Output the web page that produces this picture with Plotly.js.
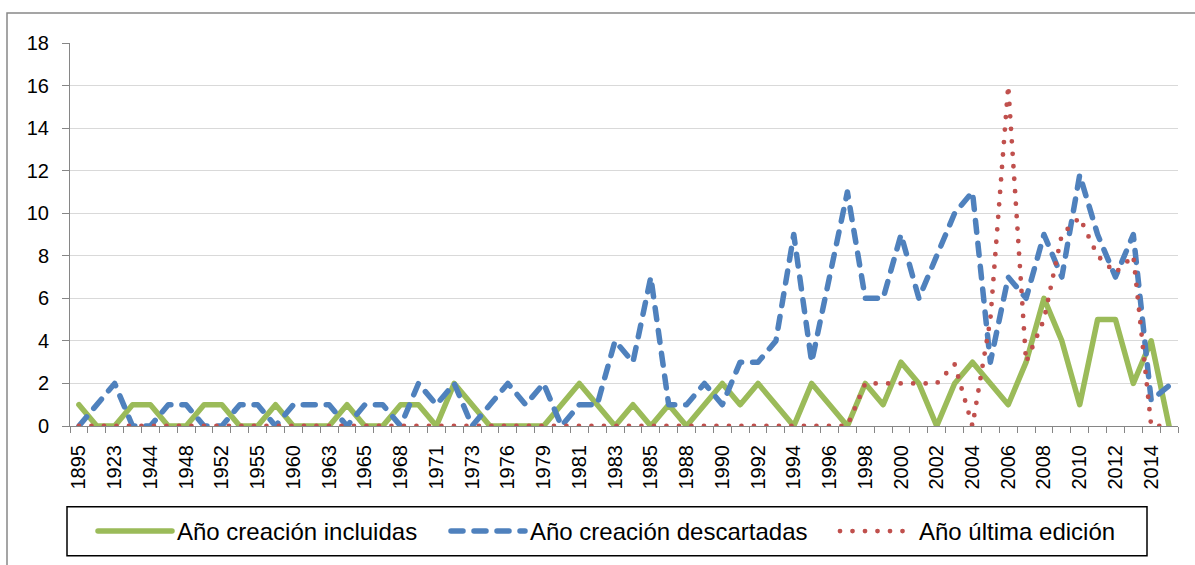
<!DOCTYPE html>
<html>
<head>
<meta charset="utf-8">
<script src="https://cdn.plot.ly/plotly-3.0.1.min.js"></script>
<style>
html,body{margin:0;padding:0;background:#fff;}
#chart{width:1195px;height:565px;}
</style>
</head>
<body>
<div id="chart"></div>
<script>
// Categories (years) on the x axis
const categories = ["1895","1920","1923","1940","1944","1947","1948","1950","1952","1954",
  "1955","1958","1960","1962","1963","1964","1965","1967","1968","1970",
  "1971","1972","1973","1975","1976","1978","1979","1980","1981","1982",
  "1983","1984","1985","1987","1988","1989","1990","1991","1992","1993",
  "1994","1995","1996","1997","1998","1999","2000","2001","2002","2003",
  "2004","2005","2006","2007","2008","2009","2010","2011","2012","2013",
  "2014","2015"];

// Tick labels that are shown (every other category)
const shownTicks = ["1895","1923","1944","1948","1952","1955","1960","1963","1965","1968",
  "1971","1973","1976","1979","1981","1983","1985","1988","1990","1992",
  "1994","1996","1998","2000","2002","2004","2006","2008","2010","2012","2014"];

const seriesNames = ["Año creación incluidas", "Año creación descartadas", "Año última edición"];

const incluidas = [1,0,0,1,1,0,0,1,1,0,
  0,1,0,0,0,1,0,0,1,1,
  0,2,1,0,0,0,0,1,2,1,
  0,1,0,1,0,1,2,1,2,1,
  0,2,1,0,2,1,3,2,0,2,
  3,2,1,3,6,4,1,5,5,2,
  4,0];

const descartadas = [0,1,2,0,0,1,1,0,0,1,
  1,0,1,1,1,0,1,1,0,2,
  1,2,0,1,2,1,2,0,1,1,
  4,3,7,1,1,2,1,3,3,4,
  9,3,7,11,6,6,9,6,8,10,
  11,3,7,6,9,7,11.8,9,7,9,
  1.2,1.9];

const ultimaEdicion = [0,0,0,0,0,0,0,0,0,0,
  0,0,0,0,0,0,0,0,0,0,
  0,0,0,0,0,0,0,0,0,0,
  0,0,0,0,0,0,0,0,0,0,
  0,0,0,0,2,2,2,2,2,2.9,
  0,5,16,3,5,9,9.8,8,7.2,8,
  0,0];

const tickText = categories.map(c => shownTicks.includes(c) ? c : "");

const traces = [
  {x: categories, y: incluidas, name: seriesNames[0], type: "scatter", mode: "lines",
   line: {color: "#9BBB59", width: 5.5}, cliponaxis: false, hoverinfo: "skip", legend: "legend"},
  {x: categories, y: descartadas, name: seriesNames[1], type: "scatter", mode: "lines",
   line: {color: "#4F81BD", width: 5.5, dash: "12px,11px"}, cliponaxis: false, hoverinfo: "skip", legend: "legend2"},
  {x: categories, y: ultimaEdicion, name: seriesNames[2], type: "scatter", mode: "lines",
   line: {color: "#C0504D", width: 4.8, dash: "0px,12.5px"}, cliponaxis: false, hoverinfo: "skip", legend: "legend3"}
];

const W = 1195, H = 565;
const mL = 70, mR = 17, mT = 43, mB = 138;
const pw = W - mL - mR, ph = H - mT - mB;
const px = v => (v - mL) / pw;
const py = v => (H - mB - v) / ph;

const legendBase = {
  orientation: "h", xanchor: "left", yanchor: "top", y: py(509),
  borderwidth: 0, bgcolor: "rgba(0,0,0,0)",
  font: {size: 24, color: "#000000"}, itemwidth: 74
};

const layout = {
  width: W, height: H,
  margin: {l: mL, r: mR, t: mT, b: mB, pad: 0},
  paper_bgcolor: "#ffffff",
  plot_bgcolor: "#ffffff",
  font: {family: "'Liberation Sans', Arial, sans-serif", size: 20, color: "#000000"},
  xaxis: {
    type: "category", categoryorder: "array", categoryarray: categories,
    tickmode: "array", tickvals: categories, ticktext: tickText,
    tickangle: -90, tickson: "boundaries", ticks: "outside", ticklen: 6,
    tickcolor: "#868686", tickwidth: 1, ticklabelstandoff: 10,
    showline: true, linecolor: "#868686", linewidth: 1,
    showgrid: false, zeroline: false, automargin: false,
    range: [-0.5, categories.length - 0.5],
    tickfont: {size: 20, color: "#000000"}, fixedrange: true
  },
  yaxis: {
    range: [0, 18], tick0: 0, dtick: 2, ticks: "outside", ticklen: 7,
    tickcolor: "#868686", tickwidth: 1,
    showline: true, linecolor: "#868686", linewidth: 1,
    showgrid: true, gridcolor: "#D9D9D9", gridwidth: 1,
    zeroline: false, automargin: false, ticklabelstandoff: 9,
    tickfont: {size: 20, color: "#000000"}, fixedrange: true
  },
  showlegend: true,
  legend: Object.assign({}, legendBase, {x: px(100 - 7)}),
  legend2: Object.assign({}, legendBase, {x: px(453 - 7)}),
  legend3: Object.assign({}, legendBase, {x: px(842 - 7)}),
  shapes: [
    {type: "rect", xref: "paper", yref: "paper",
     x0: px(7), x1: px(1205), y0: py(575), y1: py(13),
     line: {color: "#888888", width: 1.5}, fillcolor: "rgba(0,0,0,0)", layer: "below"},
    {type: "rect", xref: "paper", yref: "paper",
     x0: px(67), x1: px(1147), y0: py(557), y1: py(508),
     line: {color: "#000000", width: 1.5}, fillcolor: "rgba(0,0,0,0)", layer: "below"}
  ]
};

Plotly.newPlot("chart", traces, layout, {displayModeBar: false, staticPlot: true}).then(gd => {
  gd.querySelectorAll(".scatterlayer .js-line, .legendlines path").forEach(p => {
    p.style.strokeLinecap = "round";
    p.style.strokeLinejoin = "round";
  });
});
</script>
</body>
</html>
